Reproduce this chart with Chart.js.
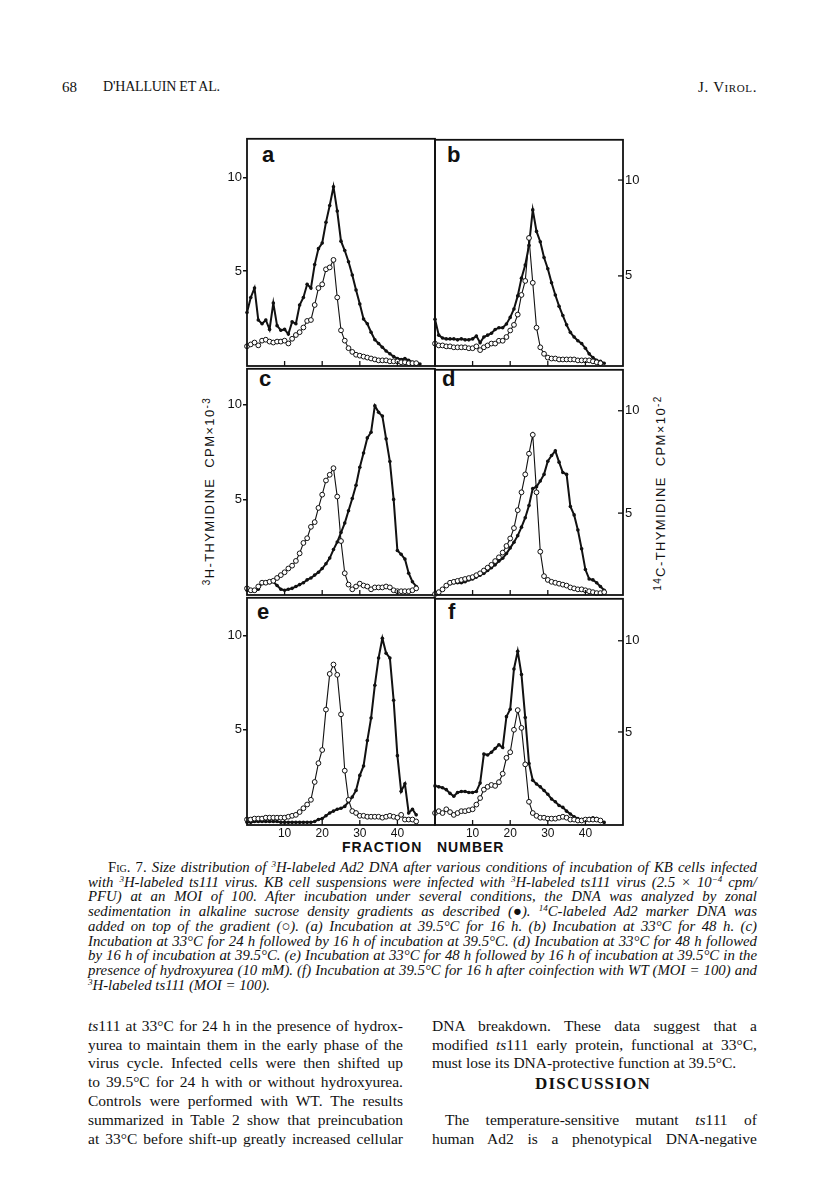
<!DOCTYPE html>
<html>
<head>
<meta charset="utf-8">
<script src="https://cdn.jsdelivr.net/npm/chart.js@4.4.0/dist/chart.umd.min.js"></script>
<style>
  body { margin: 0; background: #fff; }
  #page { position: relative; width: 816px; height: 1198px; overflow: hidden; color: #111; font-family: "Liberation Serif", serif; }
  canvas { position: absolute; }
  .t { position: absolute; white-space: nowrap; }
  .hd { font-size: 15px; line-height: 18px; }
  .cap { font-size: 14.8px; line-height: 16px; font-style: italic; }
  .cap .rm { font-style: normal; }
  .body { font-size: 15.5px; line-height: 18px; }
  .sc { font-variant: small-caps; }
  .lbl { font-family: "Liberation Sans", Arial, sans-serif; font-weight: bold; font-size: 22px; line-height: 22px; }
  .ax { font-family: "Liberation Sans", Arial, sans-serif; font-size: 13px; line-height: 16px; letter-spacing: 1.4px; transform: translate(-50%, -50%) rotate(-90deg); }
  .ax sup { font-size: 10px; vertical-align: 4px; line-height: 0; }
  .cap sup, .body sup { font-size: 9px; vertical-align: 5px; line-height: 0; }
  .xt { font-family: "Liberation Sans", Arial, sans-serif; font-weight: bold; font-size: 14px; line-height: 18px; letter-spacing: 1px; }
</style>
</head>
<body>
<div id="page">
  <div class="t hd" style="left:62px; top:78px;">68</div>
  <div class="t hd" style="left:103px; top:78px; font-size:14px; letter-spacing:-0.2px;">D'HALLUIN ET AL.</div>
  <div class="t hd" style="right:59px; top:78px; letter-spacing:0.6px;">J. <span class="sc">Virol.</span></div>

  <div class="t lbl" style="left:262px; top:144px;">a</div>
  <div class="t lbl" style="left:447px; top:144px;">b</div>
  <div class="t lbl" style="left:259px; top:368px;">c</div>
  <div class="t lbl" style="left:442px; top:368px;">d</div>
  <div class="t lbl" style="left:257px; top:601px;">e</div>
  <div class="t lbl" style="left:448px; top:601px;">f</div>

  <div class="t ax" style="left:210px; top:491px;"><sup>3</sup>H-THYMIDINE&nbsp;&nbsp;CPM×10<sup>-3</sup></div>
  <div class="t ax" style="left:661px; top:493px;"><sup>14</sup>C-THYMIDINE&nbsp;&nbsp;CPM×10<sup>-2</sup></div>
  <div class="t xt" style="left:342px; top:838px;">FRACTION</div>
  <div class="t xt" style="left:437px; top:838px;">NUMBER</div>

  <div class="t cap jl" data-w="649" style="left:108px; top:859px;"><span class="rm"><span class="sc">Fig.</span> 7.</span> Size distribution of <sup>3</sup>H-labeled Ad2 DNA after various conditions of incubation of KB cells infected</div>
  <div class="t cap jl" data-w="669" style="left:88px; top:874px;">with <sup>3</sup>H-labeled ts111 virus. KB cell suspensions were infected with <sup>3</sup>H-labeled ts111 virus (2.5 × 10<sup>−4</sup> cpm/</div>
  <div class="t cap jl" data-w="669" style="left:88px; top:888px;">PFU) at an MOI of 100. After incubation under several conditions, the DNA was analyzed by zonal</div>
  <div class="t cap jl" data-w="669" style="left:88px; top:903px;">sedimentation in alkaline sucrose density gradients as described (●). <sup>14</sup>C-labeled Ad2 marker DNA was</div>
  <div class="t cap jl" data-w="669" style="left:88px; top:918px;">added on top of the gradient (○). (a) Incubation at 39.5°C for 16 h. (b) Incubation at 33°C for 48 h. (c)</div>
  <div class="t cap jl" data-w="669" style="left:88px; top:933px;">Incubation at 33°C for 24 h followed by 16 h of incubation at 39.5°C. (d) Incubation at 33°C for 48 h followed</div>
  <div class="t cap jl" data-w="669" style="left:88px; top:947px;">by 16 h of incubation at 39.5°C. (e) Incubation at 33°C for 48 h followed by 16 h of incubation at 39.5°C in the</div>
  <div class="t cap jl" data-w="669" style="left:88px; top:962px;">presence of hydroxyurea (10 mM). (f) Incubation at 39.5°C for 16 h after coinfection with WT (MOI = 100) and</div>
  <div class="t cap" style="left:88px; top:977px;"><sup>3</sup>H-labeled ts111 (MOI = 100).</div>

  <div class="t body jl" data-w="315" style="left:88px; top:1017px;"><i>ts</i>111 at 33°C for 24 h in the presence of hydrox-</div>
  <div class="t body jl" data-w="315" style="left:88px; top:1036px;">yurea to maintain them in the early phase of the</div>
  <div class="t body jl" data-w="315" style="left:88px; top:1054px;">virus cycle. Infected cells were then shifted up</div>
  <div class="t body jl" data-w="315" style="left:88px; top:1073px;">to 39.5°C for 24 h with or without hydroxyurea.</div>
  <div class="t body jl" data-w="315" style="left:88px; top:1092px;">Controls were performed with WT. The results</div>
  <div class="t body jl" data-w="315" style="left:88px; top:1111px;">summarized in Table 2 show that preincubation</div>
  <div class="t body jl" data-w="315" style="left:88px; top:1130px;">at 33°C before shift-up greatly increased cellular</div>

  <div class="t body jl" data-w="325" style="left:432px; top:1017px;">DNA breakdown. These data suggest that a</div>
  <div class="t body jl" data-w="325" style="left:432px; top:1036px;">modified <i>ts</i>111 early protein, functional at 33°C,</div>
  <div class="t body" style="left:432px; top:1054px;">must lose its DNA-protective function at 39.5°C.</div>
  <div class="t body" style="left:535px; top:1075px; font-weight:bold; font-size:17px; letter-spacing:1.2px;">DISCUSSION</div>
  <div class="t body jl" data-w="312" style="left:445px; top:1111px;">The temperature-sensitive mutant <i>ts</i>111 of</div>
  <div class="t body jl" data-w="325" style="left:432px; top:1130px;">human Ad2 is a phenotypical DNA-negative</div>
</div>

<script>
// Fraction numbers along the gradient (x axis)
const fractions = [0, 1, 2, 3, 4, 5, 6, 7, 8, 9, 10, 11, 12, 13, 14, 15, 16, 17, 18, 19, 20, 21, 22, 23,
    24, 25, 26, 27, 28, 29, 30, 31, 32, 33, 34, 35, 36, 37, 38, 39, 40, 41, 42, 43, 44, 45, 46]
const xTicks = [10, 20, 30, 40]
const yTicks = [5, 10]
const rightTicks = [5, 10]

// 3H-labeled ts111 DNA (filled dots), values read in left-axis units
const aFilled = [2.8, 3.6, 4.1, 2.4, 2.2, 2.4, 1.9, 3.3, 2.1, 1.85, 1.9, 1.65, 2.3, 2.2, 3.2, 3.6, 4.3, 4.1, 5.35, 6.2, 6.5, 7.6, 8.5, 9.5,
    8.2, 6.6, 6.1, 5.5, 4.8, 4.0, 3.25, 2.45, 2.2, 1.75, 1.35, 1.15, 0.95, 0.75, 0.6, 0.45, 0.35, 0.3, 0.35, 0.25, 0.15, 0.1, 0.05]
const bFilled = [2.45, 1.6, 1.45, 1.4, 1.4, 1.4, 1.35, 1.4, 1.35, 1.35, 1.4, 1.55, 1.2, 1.5, 1.6, 1.7, 1.9, 2.0, 2.0, 2.2, 2.55, 3.0, 3.7, 4.65,
    5.35, 6.4, 8.3, 7.15, 6.6, 5.75, 5.15, 4.4, 3.75, 3.15, 2.65, 2.15, 1.75, 1.5, 1.3, 1.15, 0.9, 0.6, 0.4, 0.25, 0.2, 0.1]
const cFilled = [0.2, 0.15, 0.15, 0.25, 0.6, 0.6, 0.6, 0.65, 0.45, 0.25, 0.2, 0.25, 0.3, 0.4, 0.5, 0.6, 0.75, 0.85, 1.0, 1.15, 1.35, 1.6, 1.9, 2.35,
    2.75, 3.25, 3.75, 4.4, 5.05, 5.75, 6.7, 7.45, 8.25, 8.55, 9.95, 9.6, 9.4, 8.2, 7.0, 5.0, 2.3, 2.1, 1.85, 1.1, 0.65, 0.4]
const dFilled = [0, 0.05, 0.25, 0.45, 0.55, 0.6, 0.6, 0.6, 0.65, 0.75, 0.8, 0.9, 1.0, 1.1, 1.25, 1.4, 1.55, 1.75, 1.9, 2.15, 2.45, 2.75, 3.1, 3.55,
    4.05, 4.7, 5.6, 5.7, 6.0, 6.35, 7.05, 7.35, 7.6, 7.0, 6.45, 6.35, 4.65, 4.2, 3.4, 2.4, 1.3, 0.8, 0.75, 0.6, 0.4, 0.2]
const eFilled = [0.05, 0.05, 0.1, 0.1, 0.1, 0.1, 0.1, 0.1, 0.1, 0.05, 0.05, 0.05, 0.05, 0.05, 0.05, 0.05, 0.05, 0.05, 0.1, 0.2, 0.25, 0.4, 0.55, 0.65,
    0.75, 0.8, 0.9, 1.15, 1.4, 1.75, 2.55, 3.05, 4.4, 5.6, 7.35, 8.8, 9.85, 9.05, 8.8, 6.55, 3.6, 1.7, 2.1, 0.55, 0.75, 0.45]
const fFilled = [2.0, 1.95, 1.9, 1.8, 1.6, 1.45, 1.65, 1.7, 1.7, 1.65, 1.65, 1.7, 2.15, 3.7, 3.65, 3.8, 4.0, 4.2, 4.05, 5.7, 6.1, 8.25, 9.2, 7.95,
    5.65, 3.2, 2.3, 2.1, 1.95, 1.75, 1.55, 1.3, 1.15, 0.95, 0.85, 0.65, 0.5, 0.35, 0.25, 0.2, 0.2, 0.25, 0.3, 0.25, 0.15, 0.05]

// 14C-labeled Ad2 marker DNA (open circles)
const aOpen = [1.0, 1.1, 1.2, 1.05, 1.3, 1.35, 1.25, 1.2, 1.25, 1.25, 1.3, 1.15, 1.4, 1.6, 1.75, 2.0, 2.35, 2.4, 3.2, 4.1, 4.3, 5.1, 5.2, 5.6,
    3.6, 1.85, 1.3, 0.9, 0.7, 0.55, 0.5, 0.45, 0.4, 0.35, 0.3, 0.25, 0.25, 0.25, 0.2, 0.2, 0.2, 0.15, 0.15, 0.1, 0.1, 0.1]
const bOpen = [1.15, 1.05, 1.05, 1.0, 1.0, 0.95, 0.95, 0.95, 0.95, 0.9, 0.9, 1.0, 0.8, 0.95, 1.05, 1.15, 1.15, 1.3, 1.3, 1.5, 1.85, 2.15, 2.7, 3.75,
    4.5, 6.8, 4.4, 2.0, 0.95, 0.6, 0.4, 0.35, 0.35, 0.3, 0.3, 0.3, 0.3, 0.3, 0.25, 0.25, 0.25, 0.25, 0.2, 0.15, 0.1]
const cOpen = [0.3, 0.2, 0.2, 0.4, 0.6, 0.6, 0.65, 0.7, 0.85, 1.0, 1.15, 1.35, 1.5, 1.75, 2.15, 2.7, 2.95, 3.55, 3.8, 4.55, 5.25, 6.0, 6.3, 6.65,
    5.15, 2.8, 1.1, 0.5, 0.25, 0.4, 0.55, 0.45, 0.4, 0.25, 0.35, 0.35, 0.35, 0.4, 0.35, 0.2, 0.15, 0.15, 0.15, 0.15, 0.2, 0.3]
const dOpen = [0, 0.1, 0.25, 0.45, 0.6, 0.65, 0.7, 0.75, 0.8, 0.85, 0.9, 1.0, 1.1, 1.25, 1.4, 1.55, 1.75, 1.95, 2.2, 2.55, 2.95, 3.5, 4.45, 5.4,
    6.35, 7.45, 8.45, 5.4, 2.25, 0.95, 0.75, 0.65, 0.6, 0.55, 0.5, 0.45, 0.35, 0.3, 0.25, 0.25, 0.2, 0.15, 0.1, 0.05, 0.05, 0.1]
const eOpen = [0.2, 0.2, 0.25, 0.25, 0.25, 0.3, 0.3, 0.3, 0.3, 0.3, 0.3, 0.35, 0.4, 0.45, 0.6, 0.8, 1.0, 1.25, 2.2, 3.2, 3.9, 6.05, 7.95, 8.45,
    7.9, 5.8, 2.8, 1.25, 0.65, 0.55, 0.4, 0.4, 0.35, 0.35, 0.35, 0.35, 0.3, 0.35, 0.4, 0.35, 0.3, 0.45, 0.2, 0.2, 0.2, 0.1]
const fOpen = [0.55, 0.65, 0.55, 0.75, 0.6, 0.45, 0.55, 0.65, 0.65, 0.7, 0.75, 1.0, 1.35, 1.8, 1.95, 2.05, 2.0, 2.2, 2.65, 3.5, 3.8, 5.0, 6.05, 5.1,
    3.15, 1.15, 0.55, 0.4, 0.3, 0.3, 0.25, 0.25, 0.25, 0.3, 0.35, 0.3, 0.2, 0.2, 0.15, 0.15, 0.2, 0.2, 0.2, 0.2, 0.15]

// panel boxes on the page
const colLeft = [247, 435]
const rowTop = [136, 366, 595]
const rowBottom = [366, 595, 825]
const PW = 188
const ML = 45, MR = 45, MT = 6, MB = 26
// axis ranges per row (left 3H scale, right 14C scale as printed)
const leftRange = [[-0.05, 12.05], [-0.05, 11.9], [-0.09, 12.0]]
const rightRange = [[0.3, 12.1], [1.0, 12.0], [-0.1, 12.3]]

const panels = [
    { col: 0, row: 0, filled: aFilled, open: aOpen },
    { col: 1, row: 0, filled: bFilled, open: bOpen },
    { col: 0, row: 1, filled: cFilled, open: cOpen },
    { col: 1, row: 1, filled: dFilled, open: dOpen },
    { col: 0, row: 2, filled: eFilled, open: eOpen },
    { col: 1, row: 2, filled: fFilled, open: fOpen }
]

const ink = '#111'
const sans = "'Liberation Sans', Arial, sans-serif"

// frame box, inward x ticks and inward right-axis ticks
const framePlugin = {
    id: 'frame',
    afterDraw(chart, args, opts) {
        const { ctx, chartArea: a } = chart
        ctx.save()
        ctx.strokeStyle = ink
        ctx.lineWidth = 1.8
        ctx.strokeRect(a.left, a.top, a.right - a.left, a.bottom - a.top)
        ctx.lineWidth = 1.3
        chart.scales.x.ticks.forEach(t => {
            const px = chart.scales.x.getPixelForValue(t.value)
            ctx.beginPath()
            ctx.moveTo(px, a.bottom)
            ctx.lineTo(px, a.bottom - 5)
            ctx.stroke()
        })
        if (opts.right) {
            chart.scales.y1.ticks.forEach(t => {
                const py = chart.scales.y1.getPixelForValue(t.value)
                ctx.beginPath()
                ctx.moveTo(a.right, py)
                ctx.lineTo(a.right - 5, py)
                ctx.stroke()
            })
        }
        ctx.restore()
    }
}

const page = document.getElementById('page')

panels.forEach(p => {
    const h = rowBottom[p.row] - rowTop[p.row]
    const canvas = document.createElement('canvas')
    canvas.width = ML + PW + MR
    canvas.height = MT + h + MB
    canvas.style.left = (colLeft[p.col] - ML) + 'px'
    canvas.style.top = (rowTop[p.row] - MT) + 'px'
    page.appendChild(canvas)

    const isLeft = p.col === 0
    const isBottom = p.row === 2

    new Chart(canvas, {
        type: 'line',
        data: {
            datasets: [{
                data: p.open.map((v, i) => ({ x: fractions[i], y: v })),
                borderColor: ink,
                borderWidth: 1.1,
                pointRadius: 2.4,
                pointBackgroundColor: '#fff',
                pointBorderColor: ink,
                pointBorderWidth: 1,
                tension: 0,
                clip: false
            }, {
                data: p.filled.map((v, i) => ({ x: fractions[i], y: v })),
                borderColor: ink,
                borderWidth: 2,
                pointRadius: 1.8,
                pointBackgroundColor: ink,
                pointBorderWidth: 0,
                tension: 0,
                clip: false
            }]
        },
        options: {
            responsive: false,
            animation: false,
            layout: { padding: { top: MT, left: 0, right: 0, bottom: 0 }, autoPadding: false },
            plugins: { legend: { display: false }, tooltip: { enabled: false }, frame: { right: !isLeft } },
            scales: {
                x: {
                    type: 'linear', min: 0, max: 50,
                    afterBuildTicks: s => { s.ticks = xTicks.map(v => ({ value: v })) },
                    afterFit: s => { s.height = MB },
                    grid: { display: false, drawTicks: false, tickLength: 0 },
                    border: { display: false },
                    ticks: { display: isBottom, padding: 1, color: ink, font: { family: sans, size: 12 } }
                },
                y: {
                    position: 'left',
                    min: leftRange[p.row][0], max: leftRange[p.row][1],
                    afterBuildTicks: s => { s.ticks = yTicks.map(v => ({ value: v })) },
                    afterFit: s => { s.width = ML },
                    grid: { display: isLeft, drawOnChartArea: false, drawTicks: true, tickLength: 4, color: ink, lineWidth: 1.5 },
                    border: { display: false },
                    ticks: { display: isLeft, padding: 1, color: ink, font: { family: sans, size: 13 } }
                },
                y1: {
                    position: 'right',
                    min: rightRange[p.row][0], max: rightRange[p.row][1],
                    afterBuildTicks: s => { s.ticks = rightTicks.map(v => ({ value: v })) },
                    afterFit: s => { s.width = MR },
                    grid: { display: false, drawTicks: false, tickLength: 0 },
                    border: { display: false },
                    ticks: { display: !isLeft, padding: 2, color: ink, font: { family: sans, size: 13 } }
                }
            }
        },
        plugins: [framePlugin]
    })
})

// spread words so every full text line fills its column, as in the print
document.querySelectorAll('.jl').forEach(el => {
    const target = parseFloat(el.dataset.w)
    const n = (el.textContent.match(/ /g) || []).length
    const w = el.getBoundingClientRect().width
    if (n) el.style.wordSpacing = ((target - w) / n) + 'px'
})
</script>
</body>
</html>
